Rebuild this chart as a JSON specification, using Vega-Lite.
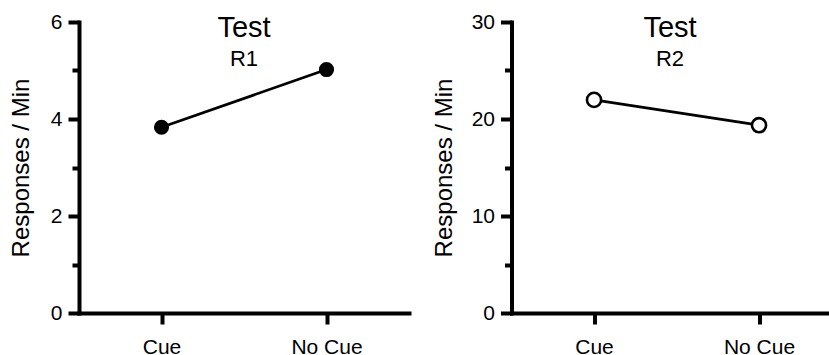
{
  "$schema": "https://vega.github.io/schema/vega-lite/v6.json",
  "padding": {"left": 9, "top": 11, "right": 0, "bottom": 0},
  "config": {
    "font": "Liberation Sans",
    "view": {"stroke": null},
    "axis": {
      "domainColor": "black", "domainWidth": 4, "domainCap": "square",
      "tickColor": "black", "tickWidth": 4, "tickSize": 11,
      "labelColor": "black", "labelFontSize": 21, "labelPadding": 6,
      "titleColor": "black", "titleFontSize": 24, "titleFontWeight": "normal",
      "grid": false
    },
    "title": {
      "fontSize": 29, "fontWeight": "normal", "color": "black",
      "subtitleFontSize": 22, "subtitleColor": "black", "subtitlePadding": 6,
      "anchor": "middle", "offset": -59
    }
  },
  "datasets": {
    "d": [
      {"panel": "R1", "condition": "Cue", "value": 3.83},
      {"panel": "R1", "condition": "No Cue", "value": 5.02},
      {"panel": "R2", "condition": "Cue", "value": 21.97},
      {"panel": "R2", "condition": "No Cue", "value": 19.36}
    ]
  },
  "spacing": 22.5,
  "hconcat": [
    {
      "width": 330, "height": 291,
      "title": {"text": "Test", "subtitle": "R1"},
      "data": {"name": "d"},
      "transform": [{"filter": "datum.panel === 'R1'"}],
      "encoding": {
        "x": {"field": "condition", "type": "nominal", "sort": ["Cue", "No Cue"],
          "scale": {"type": "point", "padding": 0.5},
          "axis": {"title": null, "labelAngle": 0, "labelPadding": 12}},
        "y": {"field": "value", "type": "quantitative",
          "scale": {"domain": [0, 6], "nice": false},
          "axis": {"title": "Responses / Min", "titlePadding": 17,
            "values": [0, 1, 2, 3, 4, 5, 6],
            "labelExpr": "datum.value % 2 === 0 ? datum.label : ''",
            "tickSize": {"condition": {"test": "datum.value % 2 === 0", "value": 11}, "value": 7}}}
      },
      "layer": [
        {"mark": {"type": "line", "color": "black", "strokeWidth": 2.8}},
        {"mark": {"type": "point", "filled": true, "color": "black", "size": 230, "opacity": 1}}
      ]
    },
    {
      "width": 317, "height": 291,
      "title": {"text": "Test", "subtitle": "R2"},
      "data": {"name": "d"},
      "transform": [{"filter": "datum.panel === 'R2'"}],
      "encoding": {
        "x": {"field": "condition", "type": "nominal", "sort": ["Cue", "No Cue"],
          "scale": {"type": "point", "padding": 0.4606, "align": 0.543},
          "axis": {"title": null, "labelAngle": 0, "labelPadding": 12}},
        "y": {"field": "value", "type": "quantitative",
          "scale": {"domain": [0, 30], "nice": false},
          "axis": {"title": "Responses / Min", "titlePadding": 15,
            "values": [0, 5, 10, 15, 20, 25, 30],
            "labelExpr": "datum.value % 10 === 0 ? datum.label : ''",
            "tickSize": {"condition": {"test": "datum.value % 10 === 0", "value": 11}, "value": 7}}}
      },
      "layer": [
        {"mark": {"type": "line", "color": "black", "strokeWidth": 2.8}},
        {"mark": {"type": "point", "filled": true, "fill": "white", "stroke": "black", "strokeWidth": 2.6, "size": 200, "opacity": 1}}
      ]
    }
  ]
}
